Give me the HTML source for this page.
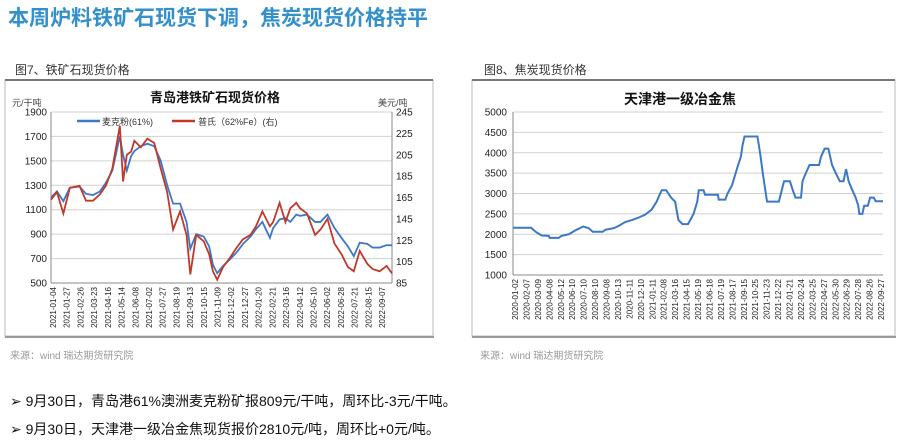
<!DOCTYPE html>
<html><head><meta charset="utf-8"><style>
body{margin:0;background:#fff;width:900px;height:441px;overflow:hidden;font-family:"Liberation Sans","Noto Sans CJK SC",sans-serif}
svg text{font-family:"Liberation Sans","Noto Sans CJK SC",sans-serif}
</style></head><body>
<svg id="s" width="900" height="441" xmlns="http://www.w3.org/2000/svg">
<text x="8" y="25" font-size="21" font-weight="bold" fill="#3390cb">本周炉料铁矿石现货下调，焦炭现货价格持平</text>
<text x="15" y="74" font-size="12" fill="#333">图7、铁矿石现货价格</text>
<text x="484" y="74" font-size="12" fill="#333">图8、焦炭现货价格</text>
<rect x="5" y="80" width="428" height="256" fill="#fff" stroke="#bbb"/>
<line x1="5" y1="80" x2="433" y2="80" stroke="#777" stroke-width="2"/>
<line x1="5" y1="337" x2="434" y2="337" stroke="#999" stroke-width="2"/>
<rect x="472" y="80" width="423" height="256" fill="#fff" stroke="#bbb"/>
<line x1="472" y1="80" x2="895" y2="80" stroke="#777" stroke-width="2"/>
<line x1="472" y1="337" x2="896" y2="337" stroke="#999" stroke-width="2"/>
<text x="215" y="102" font-size="13" font-weight="bold" text-anchor="middle" fill="#111">青岛港铁矿石现货价格</text>
<text x="12" y="106" font-size="9" fill="#444">元/干吨</text>
<text x="378" y="106" font-size="9" fill="#444">美元/吨</text>
<g>
<line x1="77" y1="121" x2="100" y2="121" stroke="#3c78c8" stroke-width="2.5"/>
<text x="102" y="125" font-size="9" fill="#333">麦克粉(61%)</text>
<line x1="172" y1="121" x2="195" y2="121" stroke="#c0392b" stroke-width="2.5"/>
<text x="198" y="125" font-size="9" fill="#333">普氏（62%Fe）(右)</text>
</g>
<text x="680" y="104" font-size="14" font-weight="bold" text-anchor="middle" fill="#111">天津港一级冶金焦</text>
<g id="g1"></g><g id="g2"></g>
<text x="10" y="359" font-size="10" fill="#999">来源：wind   瑞达期货研究院</text>
<text x="480" y="359" font-size="10" fill="#999">来源：wind   瑞达期货研究院</text>
<text x="10" y="406" font-size="14" fill="#111">➢  9月30日，青岛港61%澳洲麦克粉矿报809元/干吨，周环比-3元/干吨。</text>
<text x="10" y="434" font-size="14" fill="#111">➢  9月30日，天津港一级冶金焦现货报价2810元/吨，周环比+0元/吨。</text>
</svg>
<script>
const ironDates=["2021-01-04","2021-01-15","2021-01-27","2021-02-08","2021-02-26","2021-03-10","2021-03-23","2021-04-05","2021-04-16","2021-04-28","2021-05-12","2021-05-18","2021-05-25","2021-06-02","2021-06-08","2021-06-20","2021-07-02","2021-07-15","2021-07-27","2021-08-08","2021-08-19","2021-09-01","2021-09-13","2021-09-20","2021-10-01","2021-10-15","2021-10-25","2021-11-01","2021-11-09","2021-11-20","2021-12-02","2021-12-15","2021-12-27","2022-01-10","2022-01-20","2022-02-01","2022-02-15","2022-02-21","2022-03-05","2022-03-16","2022-03-25","2022-04-05","2022-04-12","2022-04-25","2022-05-10","2022-05-20","2022-06-02","2022-06-15","2022-06-28","2022-07-10","2022-07-21","2022-08-01","2022-08-15","2022-08-25","2022-09-07","2022-09-20","2022-09-30"];
const macValues=[1200,1250,1170,1280,1290,1230,1220,1250,1320,1420,1700,1550,1420,1540,1580,1620,1640,1620,1500,1300,1150,1150,1000,780,900,880,800,650,580,640,690,750,820,880,940,1000,870,950,1020,1030,1000,1060,1050,1060,1000,1000,1060,950,870,800,720,830,820,790,790,810,809];
const plattsValues=[163,170,150,174,176,162,162,168,176,192,232,180,205,208,218,212,220,216,192,170,135,152,130,93,130,124,112,96,88,100,108,118,126,130,138,152,138,142,160,142,155,160,155,150,130,135,145,122,112,100,96,115,103,98,96,101,94];
const ironTickLabels=["2021-01-04","2021-01-27","2021-02-26","2021-03-23","2021-04-16","2021-05-14","2021-06-08","2021-07-02","2021-07-27","2021-08-19","2021-09-13","2021-10-15","2021-11-09","2021-12-02","2021-12-27","2022-01-20","2022-02-21","2022-03-16","2022-04-12","2022-05-10","2022-06-02","2022-06-28","2022-07-21","2022-08-15","2022-09-07"];
const leftTicks=[500,700,900,1100,1300,1500,1700,1900];
const rightTicks=[85,105,125,145,165,185,205,225,245];
const cokeDates=["2020-01-02","2020-02-20","2020-03-05","2020-03-20","2020-04-08","2020-04-10","2020-05-05","2020-05-12","2020-06-01","2020-06-20","2020-07-10","2020-07-25","2020-08-05","2020-09-01","2020-09-08","2020-10-01","2020-10-13","2020-11-01","2020-11-20","2020-12-10","2020-12-25","2021-01-11","2021-01-25","2021-02-01","2021-02-08","2021-02-20","2021-03-05","2021-03-16","2021-03-25","2021-04-05","2021-04-20","2021-05-05","2021-05-15","2021-05-19","2021-06-01","2021-06-05","2021-07-10","2021-07-12","2021-07-30","2021-08-05","2021-08-17","2021-09-01","2021-09-10","2021-09-15","2021-09-20","2021-10-25","2021-11-01","2021-11-10","2021-11-20","2021-12-22","2022-01-05","2022-01-21","2022-01-28","2022-02-05","2022-02-20","2022-02-24","2022-03-05","2022-03-15","2022-03-25","2022-04-10","2022-04-15","2022-04-25","2022-05-05","2022-05-15","2022-05-25","2022-06-05","2022-06-15","2022-06-22","2022-06-29","2022-07-08","2022-07-18","2022-07-25","2022-07-28","2022-08-05","2022-08-10","2022-08-20","2022-08-26","2022-09-05","2022-09-10","2022-09-30"];
const cokeValues=[2160,2160,2050,1970,1960,1910,1910,1960,2000,2100,2190,2150,2060,2060,2110,2150,2200,2300,2350,2420,2480,2600,2800,2950,3080,3080,2900,2800,2350,2250,2250,2500,2800,3080,3080,2970,2970,2850,2850,3000,3200,3650,3900,4200,4400,4400,4000,3400,2800,2800,3300,3300,3100,2900,2900,3300,3500,3700,3700,3700,3900,4100,4100,3700,3500,3300,3300,3600,3300,3100,2900,2700,2500,2500,2700,2700,2900,2900,2810,2810];
const cokeTickLabels=["2020-01-02","2020-02-07","2020-03-09","2020-04-08","2020-05-12","2020-06-10","2020-07-10","2020-08-10","2020-09-08","2020-10-13","2020-11-11","2020-12-10","2021-01-11","2021-02-08","2021-03-16","2021-04-15","2021-05-19","2021-06-18","2021-07-19","2021-08-17","2021-09-15","2021-10-25","2021-11-23","2021-12-22","2022-01-21","2022-02-24","2022-03-25","2022-04-27","2022-05-30","2022-06-29","2022-07-28","2022-08-26","2022-09-27"];
const cokeTicks=[1000,1500,2000,2500,3000,3500,4000,4500,5000];

const NS="http://www.w3.org/2000/svg";
function mk(p,t,a){const e=document.createElementNS(NS,t);for(const k in a)e.setAttribute(k,a[k]);p.appendChild(e);return e;}
const T=d=>new Date(d+"T00:00:00Z").getTime();

const g1=document.getElementById('g1');
const L={x0:51,x1:392,y0:283,y1:112};
const xI=d=>L.x0+(T(d)-T("2021-01-04"))/(T("2022-09-30")-T("2021-01-04"))*(L.x1-L.x0);
const yL=v=>L.y0-(v-500)/1400*(L.y0-L.y1);
const yR=v=>L.y0-(v-85)/160*(L.y0-L.y1);
leftTicks.forEach(v=>{
 const ln=mk(g1,'line',{x1:L.x0,x2:L.x1,y1:yL(v),y2:yL(v),stroke:'#d0d0d0','stroke-width':1});
 
 
 const t=mk(g1,'text',{x:L.x0-4,y:yL(v)+3.5,'font-size':10,'text-anchor':'end',fill:'#222'});t.textContent=v;
 
 
});
rightTicks.forEach(v=>{
 const t=mk(g1,'text',{x:L.x1+4,y:yR(v)+3.5,'font-size':10,fill:'#222'});t.textContent=v;
 
 
});
mk(g1,'line',{x1:L.x0,x2:L.x0,y1:L.y1,y2:L.y0,stroke:'#888'});
mk(g1,'line',{x1:L.x1,x2:L.x1,y1:L.y1,y2:L.y0,stroke:'#888'});
mk(g1,'line',{x1:L.x0,x2:L.x1,y1:L.y0,y2:L.y0,stroke:'#888'});
ironTickLabels.forEach((s,i)=>{
 const x=53+i*(382-53)/(ironTickLabels.length-1);
 const t=mk(g1,'text',{x:x+3,y:L.y0+4,'font-size':8,'text-anchor':'end',fill:'#222',transform:`rotate(-90 ${x+3} ${L.y0+4})`});t.textContent=s;
 
 
});
const pm=mk(g1,'polyline',{points:ironDates.map((d,i)=>xI(d)+','+yL(macValues[i])).join(' '),fill:'none',stroke:'#3c78c8','stroke-width':1.8});


const pp=mk(g1,'polyline',{points:ironDates.map((d,i)=>xI(d)+','+yR(plattsValues[i])).join(' '),fill:'none',stroke:'#c0392b','stroke-width':1.8});



const g2=document.getElementById('g2');
const C={x0:513,x1:883,y0:275,y1:112};
const xC=d=>C.x0+(T(d)-T("2020-01-02"))/(T("2022-09-30")-T("2020-01-02"))*(C.x1-C.x0);
const yC=v=>C.y0-(v-1000)/4000*(C.y0-C.y1);
cokeTicks.forEach(v=>{
 const ln=mk(g2,'line',{x1:C.x0,x2:C.x1,y1:yC(v),y2:yC(v),stroke:'#d0d0d0','stroke-width':1});
 
 
 const t=mk(g2,'text',{x:C.x0-6,y:yC(v)+3.5,'font-size':10,'text-anchor':'end',fill:'#222'});t.textContent=v;
 
 
});
mk(g2,'line',{x1:C.x0,x2:C.x0,y1:C.y1,y2:C.y0,stroke:'#888'});
mk(g2,'line',{x1:C.x0,x2:C.x1,y1:C.y0,y2:C.y0,stroke:'#888'});
cokeTickLabels.forEach((s,i)=>{
 const x=515+i*(881-515)/(cokeTickLabels.length-1);
 const t=mk(g2,'text',{x:x+3,y:C.y0+4,'font-size':8,'text-anchor':'end',fill:'#222',transform:`rotate(-90 ${x+3} ${C.y0+4})`});t.textContent=s;
 
 
});
const pc=mk(g2,'polyline',{points:cokeDates.map((d,i)=>xC(d)+','+yC(cokeValues[i])).join(' '),fill:'none',stroke:'#3c78c8','stroke-width':2});


</script>
</body></html>
